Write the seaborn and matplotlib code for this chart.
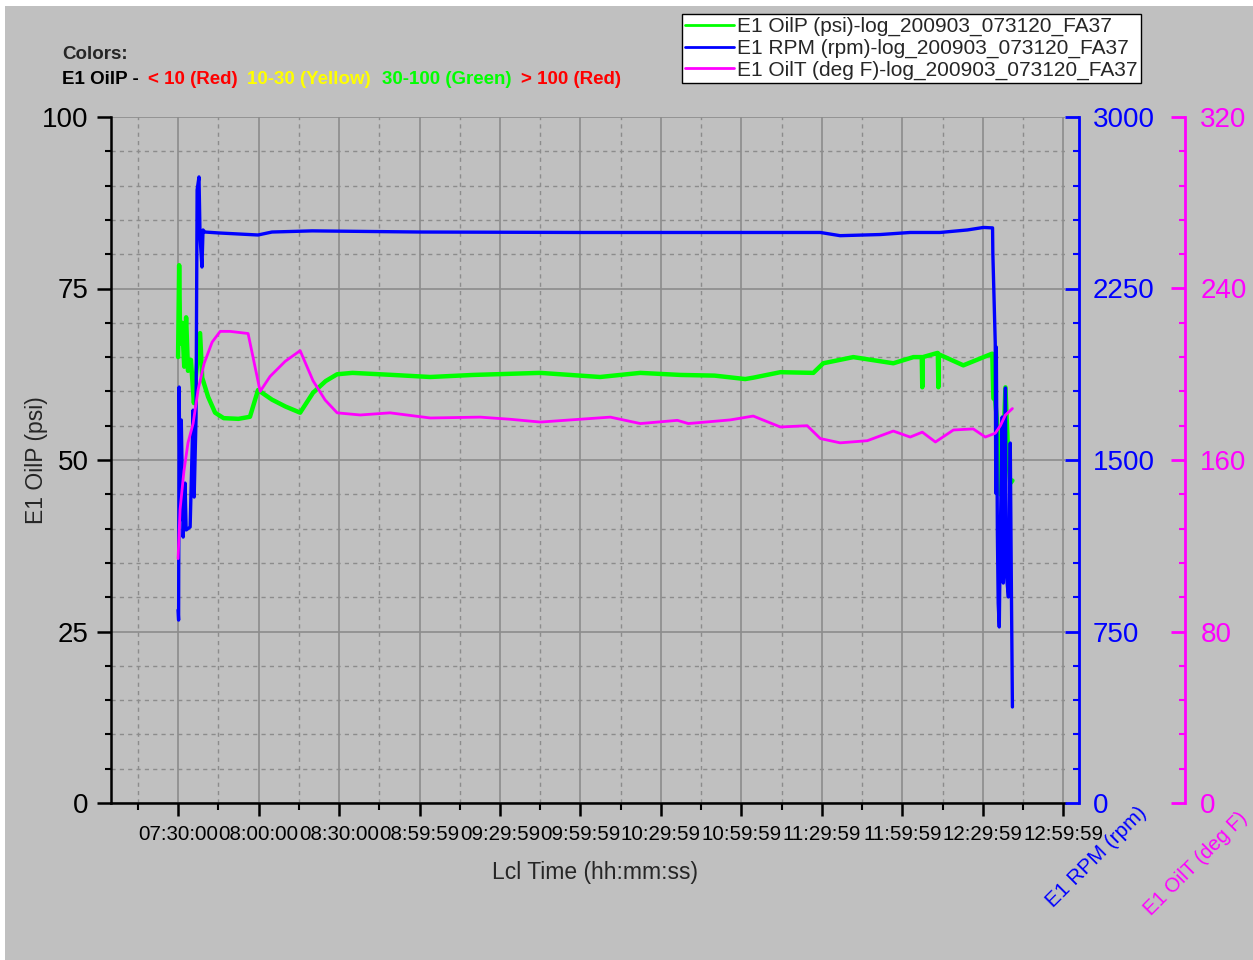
import matplotlib
matplotlib.use("Agg")
import matplotlib.pyplot as plt
from matplotlib.patches import Rectangle
from matplotlib.lines import Line2D
from matplotlib.ticker import MultipleLocator, FixedLocator
import seaborn as sns

# time = minutes after midnight
oilp_time = [450.0, 450.4, 450.8, 451.5, 452.3, 453.0, 453.7, 454.8, 455.9, 456.6,
             458.2, 459.0, 461.2, 463.8, 467.0, 472.5, 476.8, 479.8, 485.0, 490.0,
             495.5, 500.3, 505.0, 509.3, 515.0, 530.0, 544.0, 560.0, 585.0, 607.3,
             622.3, 637.2, 650.0, 661.4, 664.4, 674.5, 686.8, 690.5, 701.7, 716.6,
             724.1, 727.2, 727.4, 727.6, 733.0, 733.2, 733.4, 733.6, 742.7, 752.8,
             753.5, 753.9, 754.6, 755.4, 756.5, 757.6, 758.4, 759.5, 760.2, 761.0]
oilp_psi = [65.0, 78.4, 67.0, 70.0, 63.6, 70.8, 63.0, 64.6, 58.3, 62.0,
            68.5, 62.0, 59.2, 56.9, 56.1, 56.0, 56.3, 60.2, 58.8, 57.8,
            56.9, 59.8, 61.5, 62.5, 62.7, 62.4, 62.1, 62.4, 62.7, 62.1,
            62.7, 62.4, 62.3, 61.8, 62.0, 62.8, 62.7, 64.1, 65.0, 64.1,
            65.0, 65.0, 60.6, 65.0, 65.6, 65.6, 60.6, 65.4, 63.8, 65.4,
            65.5, 59.0, 58.7, 55.0, 45.0, 52.0, 60.6, 50.0, 46.6, 47.0]

rpm_time = [450.0, 450.2, 450.4, 450.8, 451.2, 451.9, 452.6, 453.0, 454.5, 455.6,
            456.0, 456.7, 457.1, 457.8, 458.2, 458.9, 459.3, 460.0, 465.0, 479.8,
            485.0, 500.0, 540.0, 600.0, 637.2, 689.4, 696.8, 711.7, 722.9, 734.0,
            744.2, 750.2, 753.6, 753.7, 754.1, 754.6, 754.8, 755.0, 755.4, 755.7,
            756.1, 756.5, 757.2, 757.6, 758.4, 758.7, 759.5, 760.2, 760.6, 761.0]
rpm_val = [844, 800, 1819, 1238, 1675, 1163, 1399, 1194, 1207, 1718,
           1338, 1688, 2681, 2738, 2475, 2344, 2506, 2497, 2493, 2484,
           2497, 2502, 2497, 2495, 2495, 2495, 2481, 2486, 2495, 2495,
           2506, 2517, 2515, 2405, 2230, 2011, 1355, 1994, 1180, 874,
           770, 1180, 1688, 962, 1815, 1006, 901, 1574, 962, 420]

oilt_time = [450.0, 450.75, 452.2, 453.7, 455.6, 457.5, 459.7, 462.7, 465.7, 469.4,
             476.1, 480.6, 484.3, 489.9, 495.5, 500.3, 504.8, 509.3, 517.9, 529.0,
             544.0, 562.6, 573.8, 585.0, 611.1, 622.3, 636.1, 640.2, 655.8, 664.4,
             674.5, 684.5, 689.4, 696.8, 706.9, 716.6, 722.9, 727.4, 732.3, 739.0,
             746.4, 750.9, 754.6, 756.5, 758.4, 761.0]
oilt_degf = [114, 137, 155, 168, 177, 193, 205, 215, 220, 220,
             219, 192, 199, 206, 211, 197, 188, 182, 181, 182,
             179.6, 180, 179, 177.7, 180, 177, 178.5, 177, 178.7, 180.5,
             175.4, 176, 170, 168, 169, 173.5, 170.7, 173, 168.4, 174,
             174.5, 170.7, 172.5, 176, 181, 184]

tick_minutes = [450, 480, 510, 540, 570, 600, 630, 660, 690, 720, 750, 780]
tick_labels = ["07:30:00", "08:00:00", "08:30:00", "08:59:59", "09:29:59", "09:59:59",
               "10:29:59", "10:59:59", "11:29:59", "11:59:59", "12:29:59", "12:59:59"]
legend_labels = ["E1 OilP (psi)-log_200903_073120_FA37",
                 "E1 RPM (rpm)-log_200903_073120_FA37",
                 "E1 OilT (deg F)-log_200903_073120_FA37"]

GREEN, BLUE, MAGENTA = "#00ff00", "#0000ff", "#ff00ff"
GRAY = "#c0c0c0"
W, H = 1253, 960

sns.set_style("ticks")
plt.rcParams["font.family"] = ["Liberation Sans", "DejaVu Sans"]

fig = plt.figure(figsize=(W / 100, H / 100), dpi=100, facecolor="white")
fig.patches.append(Rectangle((5 / W, 0), 1, 1 - 6 / H, transform=fig.transFigure,
                             facecolor=GRAY, edgecolor="none", zorder=-10))

ax = fig.add_axes([111 / W, 1 - 803 / H, 954 / W, 686 / H])
ax.set_facecolor("none")
ax2 = ax.twinx()
ax3 = ax.twinx()

sns.lineplot(x=oilp_time, y=oilp_psi, ax=ax, color=GREEN, lw=3.2,
             sort=False, estimator=None, legend=False)
sns.lineplot(x=rpm_time, y=rpm_val, ax=ax2, color=BLUE, lw=2.4,
             sort=False, estimator=None, legend=False)
sns.lineplot(x=oilt_time, y=oilt_degf, ax=ax3, color=MAGENTA, lw=2.0,
             sort=False, estimator=None, legend=False)

# main axis
ax.set_xlim(425, 780.6)
ax.set_ylim(0, 100)
ax.xaxis.set_major_locator(FixedLocator(tick_minutes))
ax.set_xticklabels(tick_labels)
ax.xaxis.set_minor_locator(MultipleLocator(15))
ax.yaxis.set_major_locator(MultipleLocator(25))
ax.yaxis.set_minor_locator(MultipleLocator(5))
ax.grid(which="major", color="#8c8c8c", lw=1.2, ls="-")
ax.grid(which="minor", color="#8c8c8c", lw=1.0, ls=(0, (3, 3)))
ax.set_axisbelow(True)
for s in ["top", "right"]:
    ax.spines[s].set_visible(False)
for s in ["left", "bottom"]:
    ax.spines[s].set_color("black")
    ax.spines[s].set_linewidth(1.8)
ax.tick_params(axis="y", which="major", direction="out", length=10, width=1.8,
               labelsize=20, pad=6, colors="black")
ax.tick_params(axis="y", which="minor", direction="out", length=4, width=1.5, colors="black")
ax.tick_params(axis="x", which="major", direction="out", length=9.5, width=1.8,
               labelsize=14.8, pad=6, colors="black")
ax.tick_params(axis="x", which="minor", direction="out", length=5, width=1.5, colors="black")
ax.set_xlabel("Lcl Time (hh:mm:ss)", fontsize=16.5)
ax.set_ylabel("E1 OilP (psi)", fontsize=16.5)
ax.xaxis.set_label_coords(0.507, -0.085)
ax.yaxis.set_label_coords(-0.066, 0.5)

# right axes
for a, col, top, step, off, pad in [(ax2, BLUE, 3000, 750, 14, 10), (ax3, MAGENTA, 320, 80, 120, 11)]:
    a.set_ylim(0, top)
    a.yaxis.set_major_locator(MultipleLocator(step))
    a.yaxis.set_minor_locator(MultipleLocator(step / 5))
    a.grid(False)
    for s in ["left", "top", "bottom"]:
        a.spines[s].set_visible(False)
    a.spines["right"].set_position(("outward", off * 0.72))
    a.spines["right"].set_color(col)
    a.spines["right"].set_linewidth(2)
    a.tick_params(axis="y", which="major", direction="in", length=10, width=2,
                  labelsize=20, pad=pad, colors=col)
    a.tick_params(axis="y", which="minor", direction="in", length=4, width=1.5, colors=col)
    a.set_ylabel("")

fig.text(1096 / W, 1 - 857 / H, "E1 RPM (rpm)", rotation=45, color=BLUE,
         fontsize=15, ha="center", va="center")
fig.text(1196 / W, 1 - 864 / H, "E1 OilT (deg F)", rotation=45, color=MAGENTA,
         fontsize=14.5, ha="center", va="center")

# colour note
fig.text(62 / W, 1 - 59 / H, "Colors:", fontsize=13.5, fontweight="bold", va="baseline")
for x0, txt, col in [(62, "E1 OilP -", "black"), (148, "< 10 (Red)", "#ff0000"),
                     (247, "10-30 (Yellow)", "#ffff00"), (382, "30-100 (Green)", GREEN),
                     (521, "> 100 (Red)", "#ff0000")]:
    fig.text(x0 / W, 1 - 84 / H, txt, fontsize=13.5, fontweight="bold", color=col, va="baseline")

handles = [Line2D([], [], color=c, lw=2) for c in [GREEN, BLUE, MAGENTA]]
leg = fig.legend(handles, legend_labels, loc="upper left", bbox_to_anchor=(682 / W, 1 - 14 / H),
                 fontsize=15, frameon=True, fancybox=False, edgecolor="black", framealpha=1,
                 borderpad=0.15, labelspacing=0.12, handlelength=2.35, handletextpad=0.15,
                 borderaxespad=0)
leg.get_frame().set_linewidth(1.0)

for t in ax.yaxis.get_major_ticks():
    if t.get_loc() == 100:
        t.gridline.set_visible(False)

fig.savefig("out.png", dpi=100, facecolor=fig.get_facecolor())
